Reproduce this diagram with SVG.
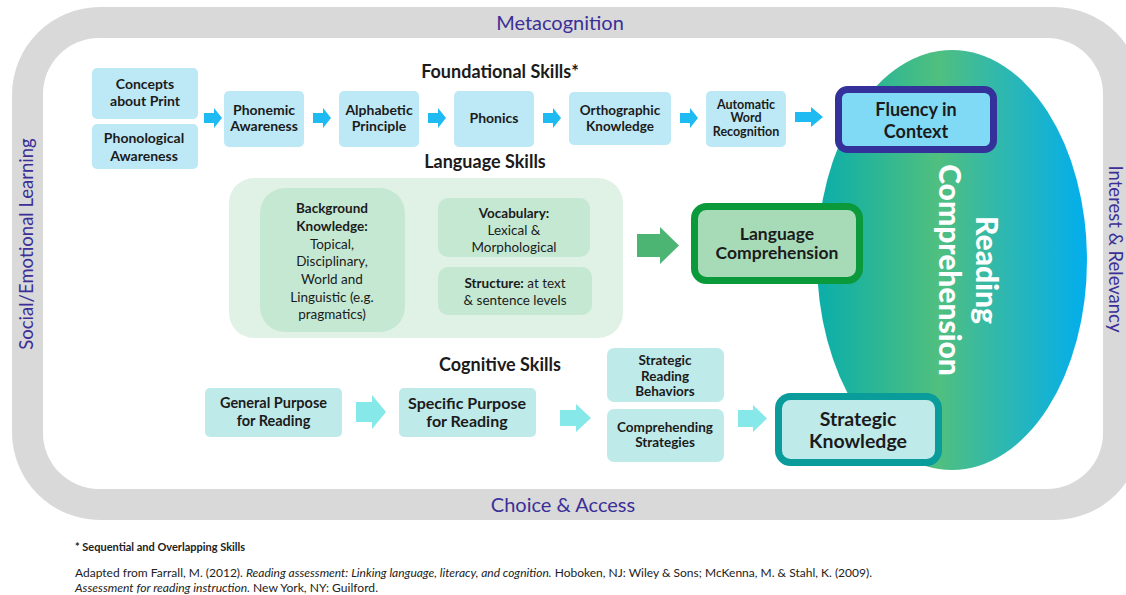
<svg xmlns="http://www.w3.org/2000/svg" width="1126" height="595" viewBox="0 0 1126 595">
<defs>
<linearGradient id="rcGrad" x1="0" y1="0" x2="1" y2="0">
<stop offset="0" stop-color="#0aaeaa"/>
<stop offset="0.45" stop-color="#50bf7f"/>
<stop offset="1" stop-color="#02aeee"/>
</linearGradient>
<path id="arrS" d="M0,-5 H10 V-10 L18,0 L10,10 V5 H0 Z"/>
</defs>
<style>
text{font-family:Lato,"Liberation Sans",Arial,sans-serif;fill:#1b1b1b}
.frame{fill:#3b2f98;font-size:20px}
.side{fill:#3b2f98;font-size:18.5px}
.title{font-weight:bold;font-size:18px;text-anchor:middle}
.b{font-weight:bold}
.c{text-anchor:middle}
.f14{font-size:14px}
.f13{font-size:13.5px}
.fBox{fill:#bde8f6}
.aBlue{fill:#1dbbf2}
.aCyan{fill:#86e8e8}
.cogBox{fill:#bfeaea}
.langOuter{fill:#e0f2e6}
.langInner{fill:#c5e8d3}
.foot{font-size:11px;fill:#222}
</style>

<g id="frame">
<rect x="12" y="7" width="1130" height="513" rx="88" fill="#d9d9d9"/>
<rect x="43" y="38" width="1060" height="451" rx="56" fill="#ffffff"/>
<text class="frame c" x="560" y="30">Metacognition</text>
<text class="frame c" x="563" y="512">Choice &amp; Access</text>
<text class="side c" transform="translate(33,244) rotate(-90)">Social/Emotional Learning</text>
<text class="side c" transform="translate(1109,249) rotate(90)">Interest &amp; Relevancy</text>
</g>

<g id="reading-comprehension">
<ellipse cx="952" cy="260" rx="135" ry="210" fill="url(#rcGrad)"/>
<text class="b c" style="fill:#ffffff;font-size:30px;font-weight:900" transform="translate(976,270) rotate(90)"><tspan x="0" y="0">Reading</tspan><tspan x="0" y="37">Comprehension</tspan></text>
</g>

<g id="titles">
<text class="title" x="500" y="78">Foundational Skills*</text>
<text class="title" x="485" y="168">Language Skills</text>
<text class="title" x="500" y="371">Cognitive Skills</text>
</g>

<g id="connectors">
<use href="#arrS" class="aBlue" transform="translate(204,118)"/>
<use href="#arrS" class="aBlue" transform="translate(313,118)"/>
<use href="#arrS" class="aBlue" transform="translate(428,118)"/>
<use href="#arrS" class="aBlue" transform="translate(543,118)"/>
<use href="#arrS" class="aBlue" transform="translate(680,118)"/>
<path class="aBlue" d="M795,112 H811 V107 L823,117 L811,127 V122 H795 Z"/>
<path d="M637,234 H660 V227 L679,245.5 L660,264 V257 H637 Z" fill="#4cb574"/>
<path class="aCyan" d="M356,402 H372 V395 L386,412 L372,429 V422 H356 Z"/>
<path class="aCyan" d="M560,410 H576 V404 L591,418 L576,432 V426 H560 Z"/>
<path class="aCyan" d="M738,410 H753 V405 L767,418.5 L753,432 V427 H738 Z"/>
</g>

<g id="concepts-about-print">
<rect class="fBox" x="92" y="68" width="106" height="51" rx="5"/>
<text class="b c f14" x="145"><tspan x="145" y="89">Concepts</tspan><tspan x="145" y="106">about Print</tspan></text>
</g>
<g id="phonological-awareness">
<rect class="fBox" x="92" y="124" width="106" height="45" rx="5"/>
<text class="b c f14"><tspan x="144" y="143">Phonological</tspan><tspan x="144" y="161">Awareness</tspan></text>
</g>
<g id="phonemic-awareness">
<rect class="fBox" x="224" y="91" width="80" height="56" rx="5"/>
<text class="b c f14"><tspan x="264" y="115">Phonemic</tspan><tspan x="264" y="131">Awareness</tspan></text>
</g>
<g id="alphabetic-principle">
<rect class="fBox" x="339" y="91" width="80" height="56" rx="5"/>
<text class="b c f14"><tspan x="379" y="115">Alphabetic</tspan><tspan x="379" y="131">Principle</tspan></text>
</g>
<g id="phonics">
<rect class="fBox" x="454" y="91" width="80" height="56" rx="5"/>
<text class="b c f14" x="494" y="123">Phonics</text>
</g>
<g id="orthographic-knowledge">
<rect class="fBox" x="569" y="92" width="102" height="53" rx="5"/>
<text class="b c f13"><tspan x="620" y="115">Orthographic</tspan><tspan x="620" y="131">Knowledge</tspan></text>
</g>
<g id="automatic-word-recognition">
<rect class="fBox" x="706" y="91" width="80" height="56" rx="5"/>
<text class="b c" style="font-size:12.5px"><tspan x="746" y="109">Automatic</tspan><tspan x="746" y="122">Word</tspan><tspan x="746" y="136">Recognition</tspan></text>
</g>
<g id="fluency-in-context">
<rect x="838.5" y="89.5" width="155" height="60" rx="9" fill="#80d9f5" stroke="#35319a" stroke-width="7"/>
<text class="b c" style="font-size:18px"><tspan x="916" y="116">Fluency in</tspan><tspan x="916" y="138">Context</tspan></text>
</g>

<g id="language-skills">
<rect class="langOuter" x="229" y="178" width="394" height="160" rx="25"/>
</g>
<g id="background-knowledge">
<rect class="langInner" x="260" y="188" width="145" height="144" rx="25"/>
<text class="c f13"><tspan class="b" x="332" y="213">Background</tspan><tspan class="b" x="332" y="231">Knowledge:</tspan><tspan x="332" y="249">Topical,</tspan><tspan x="332" y="266">Disciplinary,</tspan><tspan x="332" y="284">World and</tspan><tspan x="332" y="302">Linguistic (e.g.</tspan><tspan x="332" y="319">pragmatics)</tspan></text>
</g>
<g id="vocabulary">
<rect class="langInner" x="438" y="198" width="152" height="59" rx="10"/>
<text class="c f13"><tspan class="b" x="514" y="218">Vocabulary:</tspan><tspan x="514" y="235">Lexical &amp;</tspan><tspan x="514" y="252">Morphological</tspan></text>
</g>
<g id="structure">
<rect class="langInner" x="438" y="267" width="154" height="48" rx="10"/>
<text class="c f13"><tspan x="515" y="288"><tspan class="b">Structure:</tspan> at text</tspan><tspan x="515" y="305">&amp; sentence levels</tspan></text>
</g>
<g id="language-comprehension">
<rect x="694.5" y="206.5" width="165" height="74" rx="12" fill="#a7dbb8" stroke="#0a9a3c" stroke-width="7"/>
<text class="b c" style="font-size:17.5px"><tspan x="777" y="240">Language</tspan><tspan x="777" y="259">Comprehension</tspan></text>
</g>

<g id="general-purpose">
<rect class="cogBox" x="205" y="388" width="137" height="49" rx="5"/>
<text class="b c" style="font-size:14.5px"><tspan x="273.5" y="408">General Purpose</tspan><tspan x="273.5" y="426">for Reading</tspan></text>
</g>
<g id="specific-purpose">
<rect class="cogBox" x="399" y="388" width="137" height="49" rx="5"/>
<text class="b c" style="font-size:16px"><tspan x="467" y="409">Specific Purpose</tspan><tspan x="467" y="427">for Reading</tspan></text>
</g>
<g id="strategic-reading-behaviors">
<rect class="cogBox" x="607" y="348" width="117" height="54" rx="7"/>
<text class="b c f13"><tspan x="665" y="365">Strategic</tspan><tspan x="665" y="381">Reading</tspan><tspan x="665" y="396">Behaviors</tspan></text>
</g>
<g id="comprehending-strategies">
<rect class="cogBox" x="607" y="409" width="117" height="53" rx="7"/>
<text class="b c f13"><tspan x="665" y="432">Comprehending</tspan><tspan x="665" y="447">Strategies</tspan></text>
</g>
<g id="strategic-knowledge">
<rect x="778.5" y="396.5" width="160" height="66" rx="12" fill="#bfeaea" stroke="#0a9b9b" stroke-width="7"/>
<text class="b c" style="font-size:19.5px"><tspan x="858" y="426">Strategic</tspan><tspan x="858" y="448">Knowledge</tspan></text>
</g>

<g id="footnotes">
<text class="foot b" x="75" y="551">* Sequential and Overlapping Skills</text>
<text class="foot" x="75" y="577" textLength="797" lengthAdjust="spacingAndGlyphs">Adapted from Farrall, M. (2012). <tspan font-style="italic">Reading assessment: Linking language, literacy, and cognition.</tspan> Hoboken, NJ: Wiley &amp; Sons; McKenna, M. &amp; Stahl, K. (2009).</text>
<text class="foot" x="75" y="592" textLength="303" lengthAdjust="spacingAndGlyphs"><tspan font-style="italic">Assessment for reading instruction.</tspan> New York, NY: Guilford.</text>
</g>
</svg>
